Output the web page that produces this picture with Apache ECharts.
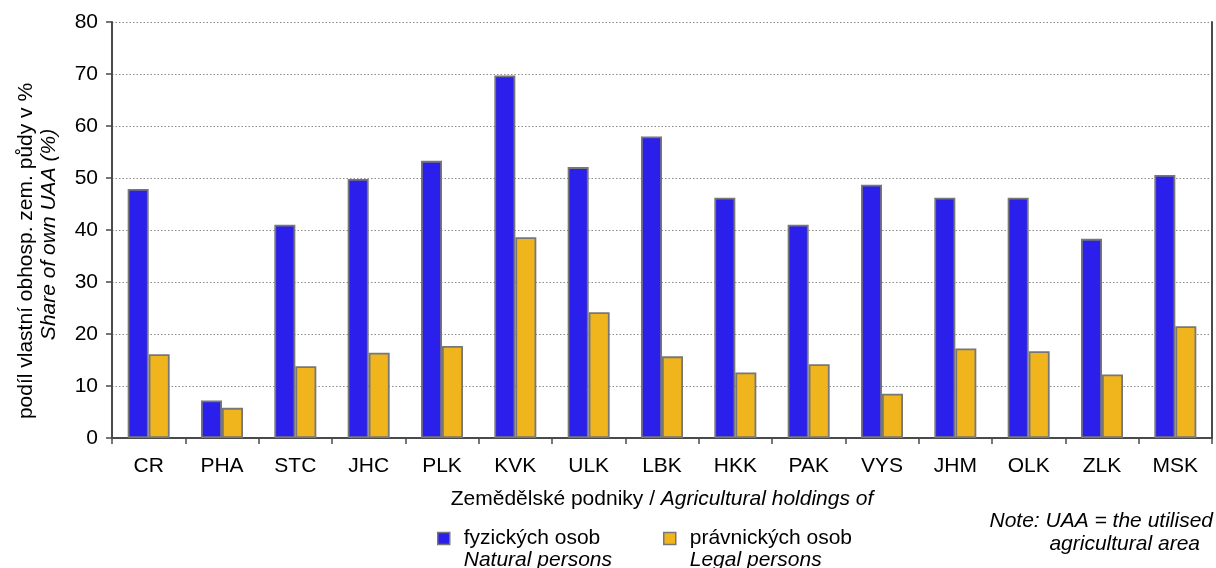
<!DOCTYPE html>
<html>
<head>
<meta charset="utf-8">
<script src="https://cdn.jsdelivr.net/npm/echarts@6/dist/echarts.min.js"></script>
<style>
  html, body { margin: 0; padding: 0; background: #fff; }
  #chart { width: 1216px; height: 568px; }
</style>
</head>
<body>
<div id="chart"></div>
<script>
// kraje
const categories = ['CR', 'PHA', 'STC', 'JHC', 'PLK', 'KVK', 'ULK', 'LBK', 'HKK', 'PAK', 'VYS', 'JHM', 'OLK', 'ZLK', 'MSK'];
// podíl vlastní půdy - fyzické osoby
const naturalPersons = [47.9, 7.2, 41.0, 49.8, 53.3, 69.7, 52.1, 58.0, 46.2, 41.0, 48.7, 46.2, 46.2, 38.3, 50.6];
// podíl vlastní půdy - právnické osoby
const legalPersons = [16.1, 5.8, 13.8, 16.4, 17.7, 38.6, 24.2, 15.7, 12.6, 14.2, 8.5, 17.2, 16.7, 12.2, 21.5];
const yTicks = [0, 10, 20, 30, 40, 50, 60, 70, 80];

const FONT = '"Liberation Sans", Arial, sans-serif';
const FS = 21;
const BLUE = '#2A1FEB';
const YELLOW = '#F0B41C';

const chart = echarts.init(document.getElementById('chart'));

const barStyle = (color) => ({
  color: color,
  borderColor: '#777777',
  borderWidth: 1.8
});

// legenda: prázdný první řádek, aby ikonka seděla u prvního řádku
const legendRich = {
  e: { fontSize: FS, lineHeight: 22, fontFamily: FONT, color: '#000', padding: [0, 0, 0, 9] },
  a: { fontSize: FS, lineHeight: 22, fontFamily: FONT, color: '#000', padding: [0, 0, 0, 9] },
  b: { fontSize: FS, lineHeight: 22, fontFamily: FONT, fontStyle: 'italic', color: '#000', padding: [0, 0, 0, 9] }
};

const legendBase = {
  top: 501,
  itemWidth: 12, itemHeight: 12, itemGap: 0,
  icon: 'rect',
  itemStyle: { borderColor: '#777777', borderWidth: 1.5 },
  textStyle: { rich: legendRich }
};

const option = {
  animation: false,
  backgroundColor: '#fff',
  grid: { left: 112, right: 4, top: 22, bottom: 130 },
  legend: [
    Object.assign({}, legendBase, {
      data: ['fyzických osob'],
      left: 432,
      formatter: () => '{e| }\n{a|fyzických osob}\n{b|Natural persons}'
    }),
    Object.assign({}, legendBase, {
      data: ['právnických osob'],
      left: 658,
      formatter: () => '{e| }\n{a|právnických osob}\n{b|Legal persons}'
    })
  ],
  xAxis: {
    type: 'category',
    data: categories,
    name: '{a|Zemědělské podniky / }{b|Agricultural holdings of}',
    nameLocation: 'middle',
    nameGap: 51,
    nameTextStyle: {
      rich: {
        a: { fontSize: FS, fontFamily: FONT, color: '#000' },
        b: { fontSize: FS, fontFamily: FONT, fontStyle: 'italic', color: '#000' }
      }
    },
    axisLine: { lineStyle: { color: '#4a4a4a', width: 2 } },
    axisTick: { show: true, length: 6, lineStyle: { color: '#4a4a4a', width: 1.5 } },
    axisLabel: { color: '#000', fontSize: FS, fontFamily: FONT, margin: 18 },
    splitLine: { show: false }
  },
  yAxis: [
    {
      type: 'value',
      min: 0, max: 80, interval: 10,
      name: '{a|podíl vlastní obhosp. zem. půdy v %}\n{b|Share of own UAA (%)}',
      nameLocation: 'middle',
      nameGap: 51,
      nameTextStyle: {
        rich: {
          a: { fontSize: FS, lineHeight: 23, fontFamily: FONT, color: '#000', padding: [0, 42, 0, 0] },
          b: { fontSize: FS, lineHeight: 23, fontFamily: FONT, fontStyle: 'italic', color: '#000', padding: [0, 9, 0, 0] }
        }
      },
      axisLine: { show: true, lineStyle: { color: '#4a4a4a', width: 2 } },
      axisTick: { show: true, length: 6, lineStyle: { color: '#4a4a4a', width: 1.5 } },
      axisLabel: {
        color: '#000', fontSize: FS, fontFamily: FONT, margin: 14,
        formatter: (v) => yTicks.includes(v) ? String(v) : ''
      },
      splitLine: { show: true, lineStyle: { color: '#8a8a8a', type: [1.5, 2], width: 1 } }
    },
    {
      type: 'value',
      min: 0, max: 80, interval: 10,
      position: 'right',
      axisLine: { show: true, lineStyle: { color: '#4a4a4a', width: 2 } },
      axisTick: { show: false },
      axisLabel: { show: false },
      splitLine: { show: false }
    }
  ],
  series: [
    {
      name: 'fyzických osob',
      type: 'bar',
      data: naturalPersons,
      barWidth: 21,
      barGap: '0%',
      itemStyle: barStyle(BLUE)
    },
    {
      name: 'právnických osob',
      type: 'bar',
      data: legalPersons,
      barWidth: 21,
      barGap: '0%',
      itemStyle: barStyle(YELLOW)
    }
  ],
  graphic: [
    {
      type: 'text', right: 3, top: 511,
      style: { text: 'Note: UAA = the utilised', font: 'italic ' + FS + 'px ' + FONT, fill: '#000' }
    },
    {
      type: 'text', right: 16, top: 534,
      style: { text: 'agricultural area', font: 'italic ' + FS + 'px ' + FONT, fill: '#000' }
    }
  ]
};

chart.setOption(option);
</script>
</body>
</html>
